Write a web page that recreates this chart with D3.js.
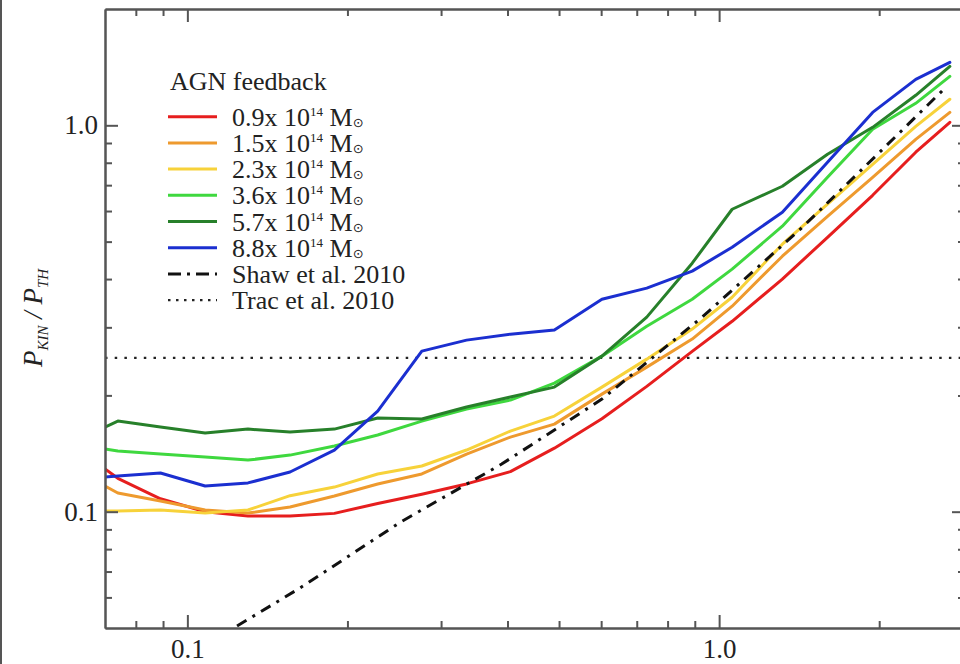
<!DOCTYPE html>
<html>
<head>
<meta charset="utf-8">
<script src="https://cdn.jsdelivr.net/npm/d3@7"></script>
<style>
  body { margin: 0; background: #fff; }
  svg { display: block; }
  text { font-family: "Liberation Serif", "Times New Roman", serif; fill: #222; }
</style>
</head>
<body>
<svg id="chart" width="960" height="664"></svg>
<script>
// Radial bins shared by the simulated clusters (r / R500)
const radius = [0.070, 0.074, 0.089, 0.108, 0.130, 0.156, 0.189, 0.228, 0.276, 0.335, 0.405,
                0.490, 0.602, 0.731, 0.890, 1.058, 1.315, 1.599, 1.944, 2.343, 2.716];

// P_KIN / P_TH profiles, AGN feedback runs
const m09 = [0.129, 0.122, 0.108, 0.100, 0.0975, 0.0975, 0.099, 0.105, 0.111, 0.118, 0.127,
             0.146, 0.174, 0.211, 0.260, 0.311, 0.400, 0.513, 0.659, 0.852, 1.018];
const m15 = [0.1165, 0.1118, 0.1066, 0.101, 0.0992, 0.1028, 0.1098, 0.1179, 0.1252, 0.141, 0.156,
             0.1685, 0.2015, 0.2367, 0.2797, 0.3403, 0.4584, 0.5816, 0.7337, 0.920, 1.080];
const m23 = [0.1004, 0.1004, 0.101, 0.0992, 0.101, 0.110, 0.1158, 0.1252, 0.1313, 0.1444, 0.1617,
             0.1768, 0.2101, 0.2482, 0.2969, 0.359, 0.4924, 0.6248, 0.7928, 0.994, 1.168];
const m36 = [0.1453, 0.1435, 0.141, 0.1385, 0.136, 0.1401, 0.1479, 0.1579, 0.1716, 0.1843, 0.1945,
             0.2152, 0.2527, 0.3021, 0.3548, 0.4243, 0.5481, 0.7337, 0.9765, 1.140, 1.339];
const m57 = [0.1656, 0.1716, 0.1656, 0.1598, 0.1636, 0.1608, 0.1636, 0.1747, 0.1737, 0.1866, 0.198,
             0.2101, 0.2527, 0.3188, 0.4397, 0.6064, 0.6955, 0.8414, 0.988, 1.196, 1.421];
const m88 = [0.1229, 0.1237, 0.1259, 0.1165, 0.1187, 0.1267, 0.1444, 0.1822, 0.2603, 0.278, 0.2881,
             0.2951, 0.3548, 0.379, 0.4193, 0.4836, 0.5957, 0.8023, 1.080, 1.315, 1.455];

// Comparison models
const shawR = [0.124, 0.163, 0.252, 0.390, 0.602, 0.929, 1.434, 2.030, 2.669];
const shawY = [0.0506, 0.0635, 0.0941, 0.1328, 0.1956, 0.3188, 0.5447, 0.8669, 1.254];
const tracR = [0.07, 2.9];
const tracY = [0.25, 0.25];

const massLabels = ["0.9", "1.5", "2.3", "3.6", "5.7", "8.8"];
const seriesColors = ["#e61e1e", "#ee9a2e", "#f7d23a", "#3fd83f", "#27802a", "#1b2fd0"];
const seriesValues = [m09, m15, m23, m36, m57, m88];

// Axis ticks
const xMajor = [0.1, 1.0];
const xMinor = [0.08, 0.09, 0.2, 0.3, 0.4, 0.5, 0.6, 0.7, 0.8, 0.9, 2.0];
const yMajor = [0.1, 1.0];
const yMinor = [0.06, 0.07, 0.08, 0.09, 0.2, 0.3, 0.4, 0.5, 0.6, 0.7, 0.8, 0.9];
const tickText = d => d3.format(".1f")(d);

const svg = d3.select("#chart");
const L = 105, R = 965, T = 9, B = 628;

const x = d3.scaleLog().domain([0.07, 2.9]).range([L, R]);
const y = d3.scaleLog().domain([0.05, 2.0]).range([B, T]);

// thin frame edge at the far left of the figure
svg.append("line").attr("x1", 1).attr("x2", 1).attr("y1", 0).attr("y2", 664)
  .attr("stroke", "#555").attr("stroke-width", 2);

svg.append("defs").append("clipPath").attr("id", "plotclip")
  .append("rect").attr("x", L).attr("y", T).attr("width", R - L).attr("height", B - T);

const plot = svg.append("g").attr("clip-path", "url(#plotclip)");
const line = d3.line().x(d => x(d[0])).y(d => y(d[1]));

// Trac et al. 2010 (dotted)
plot.append("path").datum(d3.zip(tracR, tracY)).attr("d", line)
  .attr("fill", "none").attr("stroke", "#222").attr("stroke-width", 2.2)
  .attr("stroke-dasharray", "2.5,7.2");

// simulation profiles
seriesValues.forEach((vals, i) => {
  plot.append("path").datum(d3.zip(radius, vals)).attr("d", line)
    .attr("fill", "none").attr("stroke", seriesColors[i]).attr("stroke-width", 3)
    .attr("stroke-linejoin", "round").attr("stroke-linecap", "round");
});

// Shaw et al. 2010 (dash-dot)
plot.append("path").datum(d3.zip(shawR, shawY)).attr("d", line)
  .attr("fill", "none").attr("stroke", "#111").attr("stroke-width", 3)
  .attr("stroke-dasharray", "11,7,3,7");

// Axes: ticks point inward on all four sides
const axisColor = "#555";
function styleAxis(g) {
  g.select(".domain").attr("stroke", axisColor).attr("stroke-width", 2);
  g.selectAll(".tick line").attr("stroke", axisColor).attr("stroke-width", 2);
  g.selectAll(".tick text").style("font-size", "27px").attr("fill", "#222");
}

// bottom
svg.append("g").attr("transform", `translate(0,${B})`)
  .call(d3.axisBottom(x).tickValues(xMinor).tickSizeInner(-7).tickSizeOuter(0).tickFormat(""))
  .call(styleAxis);
svg.append("g").attr("transform", `translate(0,${B})`)
  .call(d3.axisBottom(x).tickValues(xMajor).tickSizeInner(-13).tickSizeOuter(0)
    .tickPadding(11).tickFormat(tickText))
  .call(styleAxis);
// top
svg.append("g").attr("transform", `translate(0,${T})`)
  .call(d3.axisTop(x).tickValues(xMinor).tickSizeInner(-7).tickSizeOuter(0).tickFormat(""))
  .call(styleAxis);
svg.append("g").attr("transform", `translate(0,${T})`)
  .call(d3.axisTop(x).tickValues(xMajor).tickSizeInner(-13).tickSizeOuter(0).tickFormat(""))
  .call(styleAxis);
// left
svg.append("g").attr("transform", `translate(${L},0)`)
  .call(d3.axisLeft(y).tickValues(yMinor).tickSizeInner(-7).tickSizeOuter(0).tickFormat(""))
  .call(styleAxis);
svg.append("g").attr("transform", `translate(${L},0)`)
  .call(d3.axisLeft(y).tickValues(yMajor).tickSizeInner(-13).tickSizeOuter(0)
    .tickPadding(7).tickFormat(tickText))
  .call(styleAxis);
// right
svg.append("g").attr("transform", `translate(${R},0)`)
  .call(d3.axisRight(y).tickValues(yMinor).tickSizeInner(-7).tickSizeOuter(0).tickFormat(""))
  .call(styleAxis);
svg.append("g").attr("transform", `translate(${R},0)`)
  .call(d3.axisRight(y).tickValues(yMajor).tickSizeInner(-13).tickSizeOuter(0).tickFormat(""))
  .call(styleAxis);

// y-axis title: P_KIN / P_TH
const yt = svg.append("text")
  .attr("transform", "translate(42,318) rotate(-90)")
  .attr("text-anchor", "middle")
  .style("font-size", "27px").style("font-style", "italic");
yt.append("tspan").text("P");
yt.append("tspan").attr("dy", 6).style("font-size", "15px").text("KIN");
yt.append("tspan").attr("dy", -6).text(" / P");
yt.append("tspan").attr("dy", 6).style("font-size", "15px").text("TH");

// Legend
const lg = svg.append("g");
lg.append("text").attr("x", 170).attr("y", 90).style("font-size", "26px").text("AGN feedback");
const rowY = i => 116.7 + 26.2 * i;
const lx1 = 168, lx2 = 217, tx = 232;

massLabels.forEach((m, i) => {
  const yy = rowY(i);
  lg.append("line").attr("x1", lx1).attr("x2", lx2).attr("y1", yy).attr("y2", yy)
    .attr("stroke", seriesColors[i]).attr("stroke-width", 3);
  const t = lg.append("text").attr("x", tx).attr("y", yy + 9).style("font-size", "26px");
  t.append("tspan").text(m + "x 10");
  t.append("tspan").attr("dy", -10).style("font-size", "13px").text("14");
  t.append("tspan").attr("dy", 10).text(" M");
  t.append("tspan").attr("dy", 1).style("font-size", "13px")
    .style("font-family", "'DejaVu Sans', sans-serif").text("\u2299");
});

{
  const yy = rowY(6);
  lg.append("line").attr("x1", lx1).attr("x2", lx2).attr("y1", yy).attr("y2", yy)
    .attr("stroke", "#111").attr("stroke-width", 3).attr("stroke-dasharray", "13,6,3,6");
  lg.append("text").attr("x", tx).attr("y", yy + 9).style("font-size", "26px").text("Shaw et al. 2010");
  const yy2 = rowY(7);
  lg.append("line").attr("x1", lx1).attr("x2", lx2).attr("y1", yy2).attr("y2", yy2)
    .attr("stroke", "#222").attr("stroke-width", 2.2).attr("stroke-dasharray", "2.5,5.5");
  lg.append("text").attr("x", tx).attr("y", yy2 + 9).style("font-size", "26px").text("Trac et al. 2010");
}
</script>
</body>
</html>
